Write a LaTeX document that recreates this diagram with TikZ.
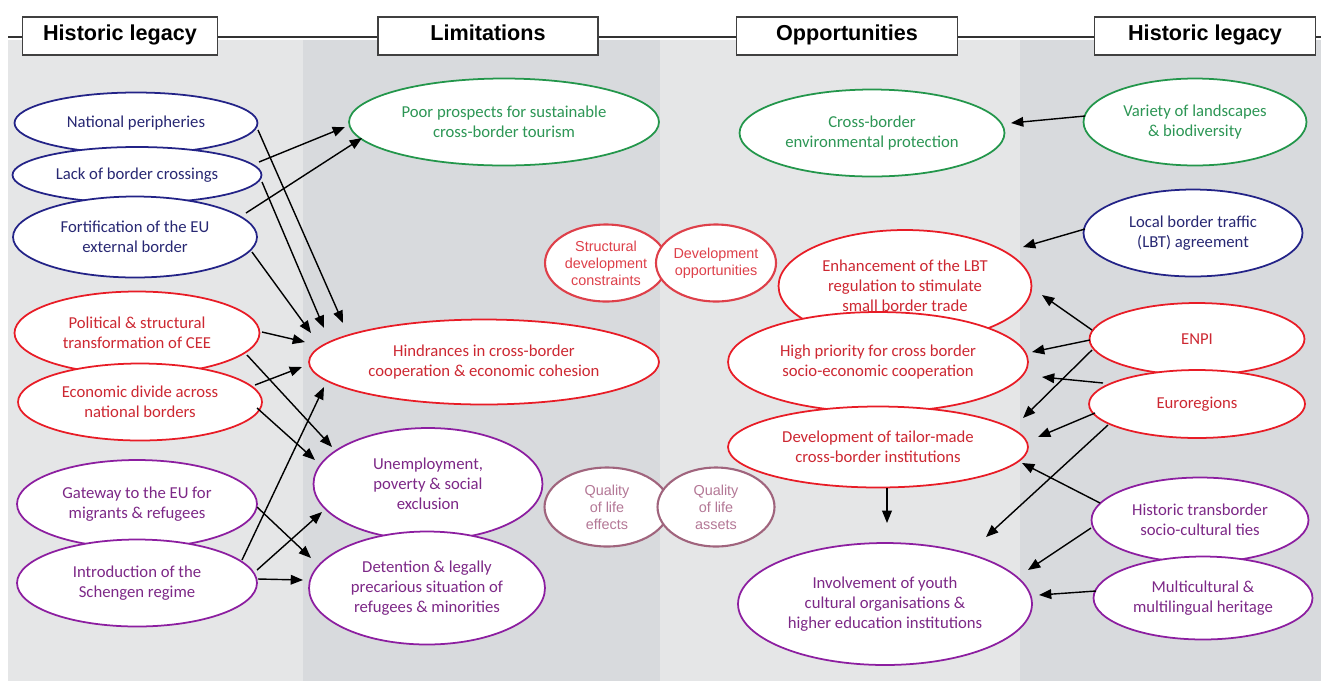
\documentclass[tikz,border=0pt]{standalone}
\usepackage{fontspec}
\setmainfont{Carlito}
\newfontfamily\arialfont{Liberation Sans}
\usepackage{xcolor}
\usepackage{tikz}
\usetikzlibrary{arrows.meta,shapes.geometric}

\definecolor{bandA}{RGB}{229,230,231}
\definecolor{bandB}{RGB}{216,218,221}
\definecolor{navyline}{RGB}{35,35,135}
\definecolor{navytext}{RGB}{40,40,115}
\definecolor{redline}{RGB}{232,28,38}
\definecolor{redtext}{RGB}{205,40,50}
\definecolor{greenline}{RGB}{35,150,75}
\definecolor{greentext}{RGB}{45,150,85}
\definecolor{purpline}{RGB}{140,30,160}
\definecolor{purptext}{RGB}{125,40,135}
\definecolor{softred}{RGB}{222,64,74}
\definecolor{mauveline}{RGB}{160,100,125}
\definecolor{mauvetext}{RGB}{180,120,150}

\begin{document}
\begin{tikzpicture}[x=0.02cm, y=-0.02cm,
    hdr/.style={draw=black!75, line width=0.9pt, fill=white, minimum width=4.42cm,
                minimum height=0.76cm, text height=0.75em, text depth=0.22em,
                font=\arialfont\bfseries\fontsize{12.3}{14}\selectfont},
    bub/.style={ellipse, line width=1pt, fill=white, inner sep=0pt, align=center,
                font=\fontsize{9.5}{11.5}\selectfont},
    blu/.style={bub, draw=navyline, text=navytext},
    rd/.style={bub, draw=redline, text=redtext},
    grn/.style={bub, draw=greenline, text=greentext},
    prp/.style={bub, draw=purpline, text=purptext},
    tiny/.style={ellipse, line width=1.2pt, fill=white, inner sep=0pt, align=center,
                 font=\arialfont\fontsize{8.2}{9.6}\selectfont},
    arr/.style={-{Triangle[length=7pt,width=5.5pt]}, line width=0.8pt}]
  \useasboundingbox (0,0) rectangle (1321,684);
  % column bands
  \fill[bandA] (8,40) rectangle (303,681);
  \fill[bandB] (303,40) rectangle (660,681);
  \fill[bandA] (660,40) rectangle (1020,681);
  \fill[bandB] (1020,40) rectangle (1321,681);
  \draw[black!80, line width=1.2pt] (8,37) -- (1321,37);
  % column headers
  \node[hdr, minimum width=3.9cm] (hleft) at (120,36) {Historic legacy};
  \node[hdr, minimum width=4.4cm] (limit) at (488,36) {Limitations};
  \node[hdr] (oppor) at (847,36) {Opportunities};
  \node[hdr] (hright) at (1205,36) {Historic legacy};
  % historic legacy (left)
  \node[blu, minimum width=4.86cm, minimum height=1.22cm] (natp) at (136,123) {National peripheries};
  \node[blu, minimum width=4.98cm, minimum height=1.12cm] (lack) at (137,175) {Lack of border crossings};
  \node[blu, minimum width=4.88cm, minimum height=1.62cm] (fort) at (135,237) {Fortification of the EU\\external border};
  \node[rd, minimum width=4.9cm, minimum height=1.66cm] (polit) at (137,333) {Political \& structural\\transformation of CEE};
  \node[rd, minimum width=4.88cm, minimum height=1.54cm] (econ) at (140,402) {Economic divide across\\national borders};
  \node[prp, minimum width=4.8cm, minimum height=1.76cm] (gate) at (137,504) {Gateway to the EU for\\migrants \& refugees};
  \node[prp, minimum width=4.8cm, minimum height=1.74cm] (scheng) at (137,583) {Introduction of the\\Schengen regime};
  % limitations
  \node[grn, minimum width=6.2cm, minimum height=1.74cm] (poor) at (504,122) {Poor prospects for sustainable\\cross-border tourism};
  \node[rd, minimum width=7cm, minimum height=1.7cm] (hind) at (484,362) {Hindrances in cross-border\\cooperation \& economic cohesion};
  \node[prp, minimum width=4.58cm, minimum height=2.24cm] (unemp) at (428,484) {Unemployment,\\poverty \& social\\exclusion};
  \node[prp, minimum width=4.72cm, minimum height=2.26cm] (deten) at (427,588) {Detention \& legally\\precarious situation of\\refugees \& minorities};
  % middle pairs
  \node[tiny, draw=softred, text=softred, minimum width=2.44cm, minimum height=1.54cm] (sdc) at (606,263) {Structural\\development\\constraints};
  \node[tiny, draw=softred, text=softred, minimum width=2.34cm, minimum height=1.54cm] (devop) at (716,263) {Development\\opportunities};
  \node[tiny, draw=mauveline, text=mauvetext, minimum width=2.5cm, minimum height=1.58cm] (qle) at (607,507) {Quality\\of life\\effects};
  \node[tiny, draw=mauveline, text=mauvetext, minimum width=2.34cm, minimum height=1.58cm] (qla) at (716,507) {Quality\\of life\\assets};
  % opportunities
  \node[grn, minimum width=5.3cm, minimum height=1.74cm] (envp) at (872,133) {Cross-border\\environmental protection};
  \node[rd, minimum width=5.06cm, minimum height=2.24cm] (enh) at (905,286) {Enhancement of the LBT\\regulation to stimulate\\small border trade};
  \node[rd, minimum width=6cm, minimum height=2cm] (prio) at (878,362) {High priority for cross border\\socio-economic cooperation};
  \node[rd, minimum width=6cm, minimum height=1.62cm] (tail) at (878,447) {Development of tailor-made\\cross-border institutions};
  \node[prp, minimum width=5.88cm, minimum height=2.44cm] (youth) at (885,604) {Involvement of youth\\cultural organisations \&\\higher education institutions};
  % historic legacy (right)
  \node[grn, minimum width=4.46cm, minimum height=1.74cm] (var) at (1195,122) {Variety of landscapes\\\& biodiversity};
  \node[blu, minimum width=4.38cm, minimum height=1.74cm] (lbt) at (1193,233) {Local border traffic\\(LBT) agreement};
  \node[rd, minimum width=4.3cm, minimum height=1.44cm] (enpi) at (1197,339) {ENPI};
  \node[rd, minimum width=4.32cm, minimum height=1.36cm] (eureg) at (1197,404) {Euroregions};
  \node[prp, minimum width=4.34cm, minimum height=1.7cm] (ties) at (1200,520) {Historic transborder\\socio-cultural ties};
  \node[prp, minimum width=4.38cm, minimum height=1.66cm] (multi) at (1203,598) {Multicultural \&\\multilingual heritage};
  % arrows, left half
  \draw[arr] ([shift={(122,7)}]natp.center) -- ([shift={(-141,-39)}]hind.center);
  \draw[arr] ([shift={(125,7)}]lack.center) -- ([shift={(-160,-34)}]hind.center);
  \draw[arr] ([shift={(117,15)}]fort.center) -- ([shift={(-173,-29)}]hind.center);
  \draw[arr] ([shift={(122,-13)}]lack.center) -- ([shift={(-159,5)}]poor.center);
  \draw[arr] ([shift={(111,-24)}]fort.center) -- ([shift={(-142,16)}]poor.center);
  \draw[arr] ([shift={(125,-1)}]polit.center) -- ([shift={(-179,-20)}]hind.center);
  \draw[arr] ([shift={(110,22)}]polit.center) -- ([shift={(-96,-37)}]unemp.center);
  \draw[arr] ([shift={(115,-17)}]econ.center) -- ([shift={(-182,5)}]hind.center);
  \draw[arr] ([shift={(117,6)}]econ.center) -- ([shift={(-113,-24)}]unemp.center);
  \draw[arr] ([shift={(120,3)}]gate.center) -- ([shift={(-116,-30)}]deten.center);
  \draw[arr] ([shift={(105,-23)}]scheng.center) -- ([shift={(-160,25)}]hind.center);
  \draw[arr] ([shift={(120,-13)}]scheng.center) -- ([shift={(-106,28)}]unemp.center);
  \draw[arr] ([shift={(121,-4)}]scheng.center) -- ([shift={(-124,-8)}]deten.center);
  % arrows, right half
  \draw[arr] ([shift={(-110,-6)}]var.center) -- ([shift={(139,-10)}]envp.center);
  \draw[arr] ([shift={(-108,-4)}]lbt.center) -- ([shift={(118,-39)}]enh.center);
  \draw[arr] ([shift={(-105,-9)}]enpi.center) -- ([shift={(137,9)}]enh.center);
  \draw[arr] ([shift={(-107,1)}]enpi.center) -- ([shift={(154,-10)}]prio.center);
  \draw[arr] ([shift={(-105,11)}]enpi.center) -- ([shift={(145,-29)}]tail.center);
  \draw[arr] ([shift={(-94,-21)}]eureg.center) -- ([shift={(164,15)}]prio.center);
  \draw[arr] ([shift={(-102,9)}]eureg.center) -- ([shift={(160,-10)}]tail.center);
  \draw[arr] ([shift={(-89,21)}]eureg.center) -- ([shift={(101,-67)}]youth.center);
  \draw[arr] ([shift={(-100,-17)}]ties.center) -- ([shift={(144,16)}]tail.center);
  \draw[arr] ([shift={(-109,8)}]ties.center) -- ([shift={(143,-34)}]youth.center);
  \draw[arr] ([shift={(-107,-7)}]multi.center) -- ([shift={(154,-9)}]youth.center);
  \draw[arr] ([shift={(9,41)}]tail.center) -- ([shift={(2,-81)}]youth.center);
\end{tikzpicture}
\end{document}
